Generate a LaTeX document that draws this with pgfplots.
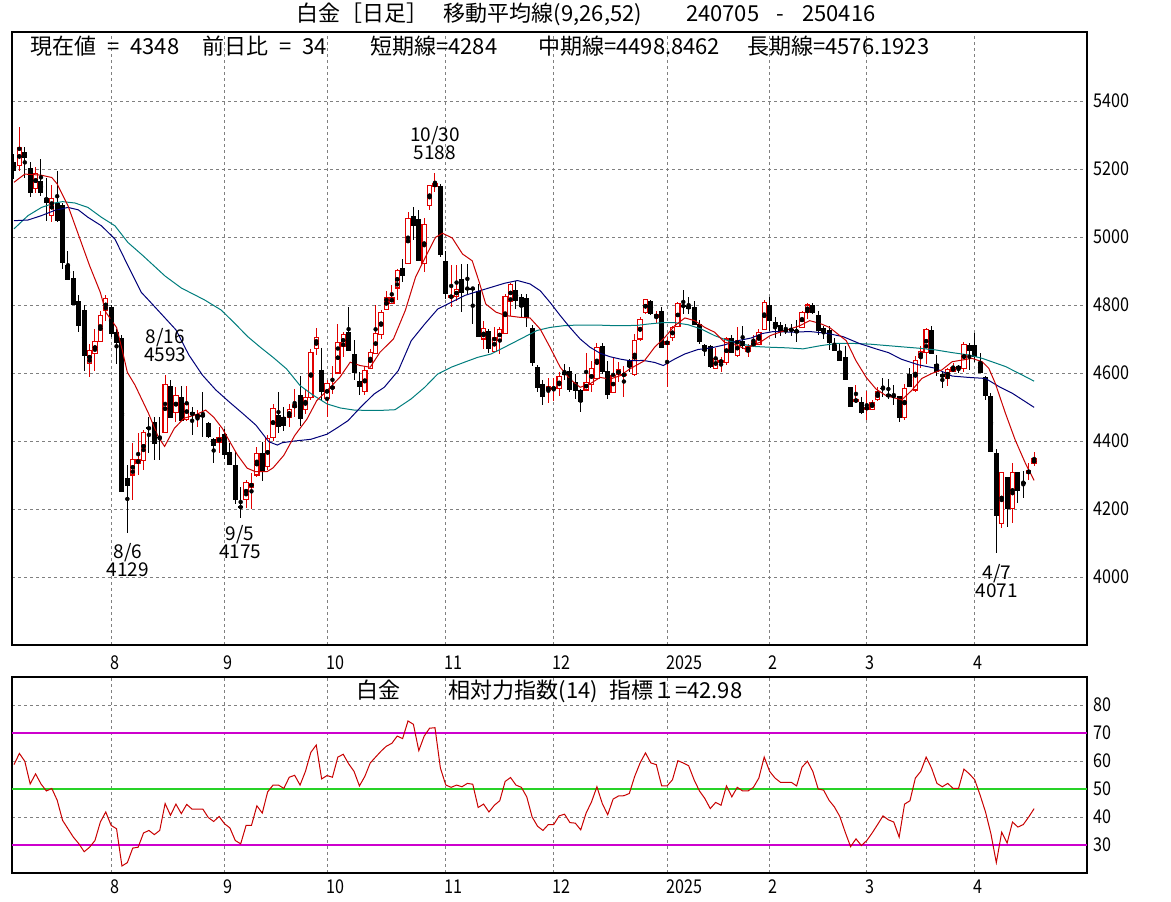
\documentclass[border=0pt]{standalone}
\usepackage{fontspec}
\setmainfont{Noto Sans CJK JP}
\newfontfamily\tickfont{Noto Sans CJK JP}[FakeStretch=0.85]
\usepackage{pgfplots}
\usepackage{pgfplotstable}
\pgfplotsset{compat=1.18}

\definecolor{cred}{RGB}{225,0,0}
\definecolor{mared}{RGB}{200,0,0}
\definecolor{navyc}{RGB}{0,0,120}
\definecolor{tealc}{RGB}{0,125,125}
\definecolor{magc}{RGB}{205,0,205}
\definecolor{grnc}{RGB}{40,210,40}
\definecolor{gridc}{RGB}{128,128,128}

% daily candles, index = trading day from 2024-07-05
\pgfplotstableread{
i O H L C
0 5220 5244 5171 5193
1 5210 5324 5195 5264
2 5251 5264 5175 5231
3 5203 5220 5117 5129
4 5143 5205 5129 5188
5 5166 5229 5122 5129
6 5116 5175 5048 5100
7 5063 5153 5045 5112
8 5100 5195 5045 5048
9 5094 5100 4906 4924
10 4919 4960 4874 4874
11 4880 4901 4800 4800
12 4813 4830 4720 4737
13 4785 4800 4607 4651
14 4627 4686 4587 4666
15 4656 4730 4607 4694
16 4692 4783 4692 4769
17 4783 4828 4754 4818
18 4793 4800 4705 4715
19 4720 4730 4627 4687
20 4702 4712 4249 4249
21 4290 4330 4129 4269
22 4300 4394 4225 4345
23 4333 4423 4300 4346
24 4344 4432 4315 4425
25 4440 4472 4364 4435
26 4457 4472 4344 4391
27 4413 4472 4344 4408
28 4425 4593 4425 4565
29 4562 4580 4467 4467
30 4483 4558 4457 4535
31 4530 4562 4460 4460
32 4462 4562 4460 4511
33 4485 4501 4418 4475
34 4470 4491 4442 4477
35 4477 4545 4413 4472
36 4454 4456 4410 4413
37 4406 4408 4336 4386
38 4396 4440 4364 4411
39 4420 4434 4346 4359
40 4369 4393 4330 4330
41 4330 4369 4215 4225
42 4209 4266 4175 4202
43 4227 4285 4202 4278
44 4264 4305 4199 4276
45 4300 4383 4295 4364
46 4366 4398 4281 4313
47 4325 4418 4315 4408
48 4410 4510 4400 4497
49 4476 4545 4425 4440
50 4471 4501 4430 4445
51 4468 4509 4440 4494
52 4499 4553 4470 4506
53 4536 4592 4445 4465
54 4494 4549 4480 4527
55 4527 4671 4520 4659
56 4671 4733 4654 4703
57 4609 4674 4519 4543
58 4524 4578 4470 4568
59 4554 4622 4538 4560
60 4600 4744 4600 4690
61 4679 4720 4646 4713
62 4722 4793 4665 4665
63 4656 4698 4578 4600
64 4576 4602 4534 4558
65 4545 4622 4534 4607
66 4612 4671 4612 4661
67 4656 4801 4656 4717
68 4713 4784 4700 4777
69 4788 4842 4788 4821
70 4805 4858 4805 4823
71 4850 4906 4815 4901
72 4908 4935 4867 4884
73 4923 5073 4923 5053
74 5063 5089 4991 5033
75 5053 5080 4928 4928
76 4923 5056 4896 5038
77 5092 5154 5080 5151
78 5150 5188 5131 5156
79 5151 5156 4940 4947
80 4930 4960 4818 4831
81 4821 4919 4793 4828
82 4825 4919 4813 4845
83 4877 4921 4779 4834
84 4850 4921 4833 4847
85 4850 4852 4744 4847
86 4842 4862 4705 4705
87 4700 4752 4671 4730
88 4725 4730 4658 4671
89 4664 4735 4664 4705
90 4697 4735 4656 4727
91 4717 4833 4717 4825
92 4811 4864 4769 4860
93 4844 4870 4789 4811
94 4823 4832 4764 4795
95 4821 4832 4736 4762
96 4732 4740 4622 4628
97 4619 4625 4543 4556
98 4568 4580 4507 4530
99 4548 4585 4511 4560
100 4552 4585 4519 4558
101 4553 4602 4533 4589
102 4604 4627 4578 4594
103 4607 4617 4543 4550
104 4573 4597 4524 4548
105 4551 4553 4484 4514
106 4550 4658 4548 4573
107 4566 4636 4543 4614
108 4585 4687 4585 4676
109 4680 4687 4597 4602
110 4607 4636 4524 4535
111 4543 4646 4543 4592
112 4595 4631 4573 4610
113 4592 4622 4528 4597
114 4636 4640 4602 4617
115 4597 4715 4592 4695
116 4700 4764 4695 4756
117 4778 4818 4774 4815
118 4811 4815 4772 4775
119 4764 4783 4746 4772
120 4783 4793 4674 4674
121 4685 4707 4558 4693
122 4703 4739 4695 4734
123 4736 4808 4734 4805
124 4801 4844 4774 4793
125 4798 4825 4774 4788
126 4793 4813 4742 4742
127 4744 4756 4685 4692
128 4683 4685 4651 4666
129 4680 4683 4615 4619
130 4612 4674 4612 4644
131 4632 4648 4602 4636
132 4631 4707 4625 4700
133 4703 4713 4658 4658
134 4651 4734 4646 4695
135 4693 4739 4671 4680
136 4664 4685 4646 4678
137 4678 4713 4677 4693
138 4685 4729 4685 4718
139 4729 4815 4729 4808
140 4801 4825 4725 4754
141 4751 4766 4703 4734
142 4742 4749 4710 4723
143 4727 4744 4715 4723
144 4729 4744 4710 4725
145 4727 4756 4690 4717
146 4734 4783 4734 4778
147 4778 4805 4759 4800
148 4800 4805 4774 4776
149 4772 4783 4713 4723
150 4732 4739 4700 4717
151 4727 4739 4668 4687
152 4683 4703 4664 4666
153 4666 4685 4636 4636
154 4648 4678 4580 4580
155 4560 4560 4499 4499
156 4517 4566 4511 4521
157 4514 4529 4480 4482
158 4494 4548 4462 4499
159 4494 4521 4494 4514
160 4521 4560 4519 4546
161 4556 4585 4529 4553
162 4538 4582 4524 4530
163 4536 4565 4505 4528
164 4532 4532 4455 4469
165 4469 4567 4462 4555
166 4597 4614 4560 4560
167 4550 4650 4545 4636
168 4646 4679 4614 4663
169 4660 4731 4627 4727
170 4727 4738 4656 4656
171 4627 4653 4591 4604
172 4597 4604 4555 4587
173 4584 4614 4562 4609
174 4604 4628 4604 4617
175 4621 4624 4599 4611
176 4612 4692 4604 4685
177 4682 4687 4609 4665
178 4682 4717 4633 4648
179 4633 4660 4599 4599
180 4587 4591 4521 4531
181 4531 4540 4369 4369
182 4364 4376 4071 4180
183 4158 4310 4143 4307
184 4293 4293 4148 4201
185 4202 4335 4158 4307
186 4310 4310 4217 4254
187 4279 4313 4232 4276
188 4303 4335 4285 4314
189 4333 4369 4325 4348
}\candles

% 9-day moving average
\pgfplotstableread{
i v
0 5161
2 5185
5 5182
7 5175
8 5156
10 5092
12 5004
14 4916
16 4837
17 4779
19 4734
20 4671
21 4602
22.4 4565
24.9 4482
26.7 4413
27.9 4384
29.7 4437
31.5 4467
33.7 4477
35.5 4491
37 4470
38.6 4437
39.8 4403
41.4 4359
43.2 4320
44.7 4310
46.9 4310
48 4321
50 4358
52 4416
54.3 4465
56.1 4519
58 4548
60.4 4588
62.3 4632
64.1 4622
66 4617
67.8 4661
70.3 4700
72.5 4784
74.4 4882
76.2 4940
78.1 4999
79.4 5011
81.2 4997
83.1 4950
84.9 4930
86.1 4872
87.4 4803
89.3 4779
91.1 4769
93.6 4764
95.6 4762
97.5 4729
99.3 4676
101.2 4617
103 4582
104.9 4558
106.7 4568
108.6 4587
110.4 4582
112.3 4592
114.1 4612
116.8 4636
118.7 4676
120.6 4705
122.4 4739
124.3 4762
126.1 4754
128 4734
129.8 4720
131.7 4690
133.5 4685
135.4 4671
137.2 4685
138.2 4690
140.1 4710
141.9 4720
143.7 4729
145.6 4739
147.4 4754
149.3 4746
151.1 4734
153 4710
154.2 4695
156 4636
157.9 4587
159.7 4553
161.6 4533
163.3 4526
164.5 4521
166.4 4550
168.2 4584
170.1 4599
171.9 4609
173.8 4633
175.6 4638
177.5 4643
179.4 4633
180.6 4614
181.8 4570
183.7 4481
185.5 4403
187.4 4334
189 4284
}\maS

% 26-day moving average
\pgfplotstableread{
i v
0 5048
2.6 5050
5.1 5063
7.5 5078
10 5087
11.9 5080
13.7 5058
16.2 5033
18.7 4994
21.1 4916
23.6 4837
24.9 4815
30 4727
32.4 4653
34.9 4594
37.4 4550
39.8 4516
42.3 4482
44.8 4447
47.2 4398
48.8 4388
49.7 4395
52 4400
55 4405
58 4420
60 4440
61.9 4460
64.2 4499
66.7 4538
68.6 4558
71.2 4607
73.6 4695
76.1 4744
78.5 4788
81 4808
83.5 4828
85.9 4840
88.4 4852
90.9 4864
93.3 4872
95.6 4862
97.5 4842
99.3 4808
101.2 4769
103 4734
104.9 4700
106.7 4676
108.6 4658
110.4 4648
112.3 4641
114.1 4636
116.6 4637
118.7 4631
120.3 4622
122.4 4641
124.3 4656
126.7 4669
129.2 4674
131.7 4683
134.1 4695
136.6 4703
138.6 4716
140.7 4722
144.4 4720
147.4 4722
150.5 4717
153.6 4707
156.6 4687
159.7 4671
162 4660
164.5 4640
167.6 4624
170.7 4614
173.8 4591
176.9 4587
180 4584
182.5 4560
185 4540
189 4499
}\maM

% 52-day moving average
\pgfplotstableread{
i v
0 5024
2.6 5063
5.1 5087
7.5 5100
9 5104
11.3 5100
13.7 5087
16.2 5058
18.7 5033
21.1 4984
23.9 4945
28 4885
31 4850
35.3 4815
38.4 4785
40.9 4746
43.3 4707
45.7 4675
48 4646
50.5 4612
53 4563
55.5 4534
58 4509
60.5 4497
63 4491
65.4 4490
67.9 4490
70.6 4492
73.6 4524
76.1 4558
78.5 4597
81 4617
83.5 4632
85.9 4646
88.4 4656
90.9 4676
93.6 4698
96.9 4725
99.3 4734
101.8 4739
104.3 4741
108 4741
111.7 4739
115.4 4740
117.5 4744
120 4748
122.4 4748
124.9 4742
127.4 4729
129.8 4710
132.3 4695
134.8 4685
137.2 4678
139.7 4676
143.2 4674
146.2 4671
149.3 4680
152.4 4687
155.5 4687
158.5 4685
161.5 4681
164.5 4677
167.6 4673
170.7 4668
173.8 4660
176.9 4653
179.4 4643
181.2 4633
183.7 4619
186.2 4599
189 4576
}\maL

% RSI(14)
\pgfplotstableread{
i v
0 58.7
1 62.7
2 59.9
3 51.8
4 55.4
5 51.8
6 49.3
7 50.2
8 46.0
9 38.8
10 35.8
11 32.8
12 30.5
13 27.6
14 29.2
15 31.6
16 38.2
17 41.8
18 37.0
19 35.8
20 22.5
21 23.7
22 28.9
23 29.2
24 34.3
25 35.2
26 33.7
27 35.2
28 44.8
29 40.6
30 44.6
31 41.2
32 44.5
33 42.8
34 42.8
35 42.8
36 39.8
37 38.4
38 40.2
39 37.6
40 36.1
41 31.6
42 30.4
43 37.0
44 37.0
45 44.0
46 41.4
47 49.0
48 51.4
49 51.4
50 50.2
51 54.2
52 54.9
53 51.4
54 56.3
55 63.1
56 65.7
57 53.6
58 54.8
59 54.2
60 61.4
61 62.4
62 59.0
63 56.3
64 51.1
65 54.5
66 59.3
67 61.4
68 63.5
69 65.3
70 66.3
71 68.9
72 68.0
73 74.3
74 73.1
75 63.7
76 68.9
77 71.7
78 71.9
79 57.5
80 51.4
81 50.6
82 51.4
83 50.8
84 52.0
85 51.7
86 43.4
87 44.6
88 41.8
89 44.2
90 45.8
91 52.7
92 54.1
93 51.4
94 50.6
95 47.2
96 40.0
97 36.7
98 35.2
99 37.3
100 37.3
101 40.4
102 41.0
103 38.0
104 37.8
105 35.4
106 41.4
107 45.4
108 50.8
109 44.8
110 40.8
111 46.4
112 47.5
113 47.6
114 48.4
115 54.5
116 59.3
117 62.9
118 59.3
119 58.7
120 51.1
121 51.1
122 53.3
123 60.1
124 59.3
125 58.3
126 53.3
127 49.3
128 46.6
129 43.0
130 45.2
131 44.2
132 51.1
133 47.2
134 50.6
135 49.3
136 49.3
137 50.6
138 53.9
139 61.4
140 56.3
141 53.9
142 52.4
143 52.4
144 52.4
145 51.1
146 57.8
147 59.9
148 56.3
149 50.0
150 49.6
151 46.0
152 43.6
153 40.2
154 34.6
155 29.4
156 32.2
157 29.8
158 31.6
159 34.3
160 37.3
161 40.4
162 39.0
163 38.2
164 32.8
165 44.6
166 45.8
167 53.9
168 56.3
169 61.4
170 57.5
171 52.0
172 50.8
173 52.0
174 50.2
175 50.2
176 57.1
177 55.4
178 53.3
179 47.8
180 41.8
181 34.0
182 23.7
183 34.6
184 30.7
185 38.2
186 36.4
187 37.3
188 40.0
189 42.98
}\rsi

\pgfplotsset{
  chartaxis/.style={
    scale only axis, width=1075pt, anchor=south west,
    axis line style={line width=1.2pt},
    xmin=-0.37, xmax=198.8,
    xtick={18,39,58,80,100,121,140,158,178},
    xticklabels={8,9,10,11,12,2025,2,3,4},
    xmajorgrids, ymajorgrids,
    major grid style={gridc, dash pattern=on 3pt off 3pt, line width=0.8pt},
    major tick length=0pt,
    ticklabel style={font=\tickfont\fontsize{19}{19}\selectfont},
    xticklabel style={anchor=north west, inner sep=0pt, xshift=-1pt},
    yticklabel pos=right,
    yticklabel style={anchor=west, inner sep=0pt, xshift=6pt},
  },
  % one vertical stroke per candle, drawn as an error bar
  stroke/.style 2 args={only marks, mark=none, forget plot,
    error bars/y dir=both, error bars/y explicit,
    error bars/error mark=none,
    error bars/error bar style={draw=#1, line width=#2}},
  upday/.style={restrict expr to domain={\thisrow{C}-\thisrow{O}}{0:100000}},
  downday/.style={restrict expr to domain={\thisrow{O}-\thisrow{C}}{0.1:100000}},
}

\newcommand{\sep}{\hspace{0.5em}}

\begin{document}
\begin{tikzpicture}[font=\fontsize{22}{22}\selectfont]
\useasboundingbox (0,0) rectangle (1171pt,902pt);

% price panel
\begin{axis}[chartaxis, at={(12pt,257pt)}, height=613pt,
  ymin=3800, ymax=5603,
  ytick={4000,4200,4400,4600,4800,5000,5200,5400},
  yticklabels={4000,4200,4400,4600,4800,5000,5200,5400},
  xticklabel style={yshift=-11pt}]
  % black candles
  \addplot[downday, stroke={black}{1pt}]
    table[x=i, y expr={(\thisrow{H}+\thisrow{L})/2}, y error expr={(\thisrow{H}-\thisrow{L})/2}] {\candles};
  \addplot[downday, stroke={black}{5pt}]
    table[x=i, y expr={(\thisrow{O}+\thisrow{C})/2}, y error expr={max((\thisrow{O}-\thisrow{C})/2,1.5)}] {\candles};
  % red (up) candles, hollow
  \addplot[upday, stroke={cred}{1pt}]
    table[x=i, y expr={(\thisrow{H}+\thisrow{L})/2}, y error expr={(\thisrow{H}-\thisrow{L})/2}] {\candles};
  \addplot[upday, stroke={cred}{5.4pt}]
    table[x=i, y expr={(\thisrow{O}+\thisrow{C})/2}, y error expr={(\thisrow{C}-\thisrow{O})/2+1.5}] {\candles};
  \addplot[upday, stroke={white}{3.2pt}]
    table[x=i, y expr={(\thisrow{O}+\thisrow{C})/2}, y error expr={max((\thisrow{C}-\thisrow{O})/2-1.5,0)}] {\candles};
  % moving averages
  \addplot[tealc, line width=1pt, no marks] table[x=i, y=v] {\maL};
  \addplot[navyc, line width=1pt, no marks] table[x=i, y=v] {\maM};
  \addplot[mared, line width=1pt, no marks] table[x=i, y=v] {\maS};
  % high / low notes
  \begin{scope}[every node/.style={align=center, font=\fontsize{19}{18}\selectfont, inner sep=0pt}]
    \node at (axis cs:78,5276) {10/30\\5188};
    \node at (axis cs:28,4681) {8/16\\4593};
    \node at (axis cs:21.1,4050) {8/6\\4129};
    \node at (axis cs:41.9,4103) {9/5\\4175};
    \node at (axis cs:182.1,3988) {4/7\\4071};
  \end{scope}
\end{axis}

% RSI panel
\begin{axis}[chartaxis, at={(12pt,29pt)}, height=196pt,
  ymin=20, ymax=90,
  ytick={30,40,50,60,70,80},
  yticklabels={30,40,50,60,70,80},
  xticklabel style={yshift=-7pt}]
  \addplot[magc, line width=1.2pt, no marks] coordinates {(-1,70) (200,70)};
  \addplot[magc, line width=1.2pt, no marks] coordinates {(-1,30) (200,30)};
  \addplot[grnc, line width=1.2pt, no marks] coordinates {(-1,50) (200,50)};
  \addplot[mared, line width=1pt, no marks] table[x=i, y=v] {\rsi};
\end{axis}

% titles and readouts
\node at (586pt,888pt) {白金［日足］\hspace{0.7em}移動平均線(9,26,52)\hspace{2em}240705\hspace{0.8em}-\hspace{0.8em}250416};
\node[anchor=west, inner sep=0pt] at (30pt,856pt) {現在値\sep=\sep 4348};
\node[anchor=west, inner sep=0pt] at (202pt,856pt) {前日比\sep=\sep 34};
\node[anchor=west, inner sep=0pt] at (370pt,856pt) {短期線=4284};
\node[anchor=west, inner sep=0pt] at (538pt,856pt) {中期線=4498.8462};
\node[anchor=west, inner sep=0pt] at (747pt,856pt) {長期線=4576.1923};
\node at (549.5pt,211pt) {白金\hspace{48pt}相対力指数(14)\sep 指標１=42.98};
\end{tikzpicture}
\end{document}
